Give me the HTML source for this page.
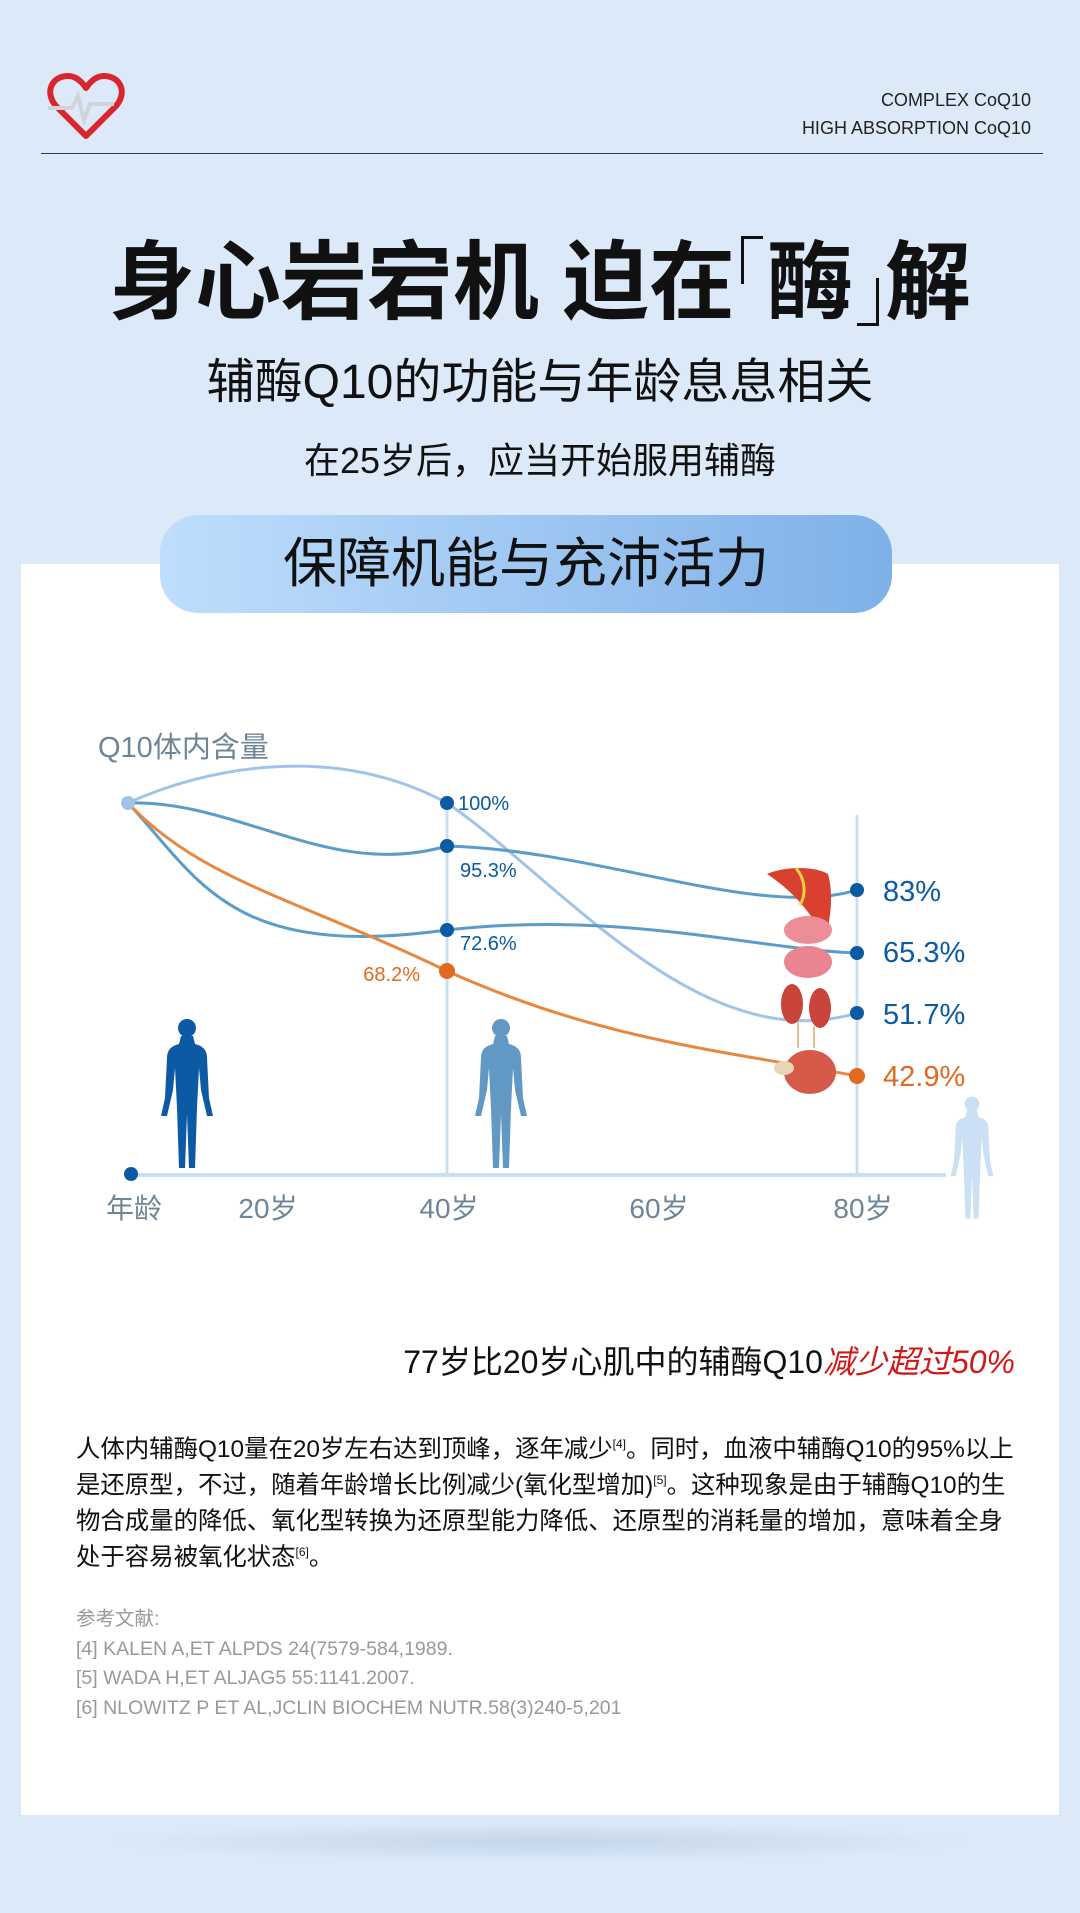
<!DOCTYPE html>
<html><head><meta charset="utf-8"><style>
*{margin:0;padding:0;box-sizing:border-box}
body{width:1080px;height:1913px;background:#dce9f8;position:relative;overflow:hidden;font-family:"Liberation Sans","Noto Sans CJK SC",sans-serif;color:#111}
.abs{position:absolute;white-space:nowrap}
.bk{display:inline-block;width:22px;height:48px;color:transparent;font-size:10px;overflow:hidden;position:relative}
sup{font-size:12px;line-height:0}
</style></head><body>
<svg class="abs" style="left:44px;top:70px" width="84" height="72" viewBox="0 0 84 72">
<path d="M42 66 L12 36 C0 22 8 6 24 6 C32 6 38 12 42 18 C46 12 52 6 60 6 C76 6 84 22 72 36 Z" fill="none" stroke="#d9262e" stroke-width="6" stroke-linejoin="round"/>
<path d="M4 38 H28 L34 26 L40 50 L46 34 H70" fill="none" stroke="#cfd4da" stroke-width="4"/>
</svg>
<div class="abs" style="right:49px;top:86px;font-size:18px;color:#222;text-align:right;line-height:28px">COMPLEX CoQ10<br>HIGH ABSORPTION CoQ10</div>
<div class="abs" style="left:41px;top:153px;width:1002px;height:1px;background:#2b3d55"></div>
<div class="abs" style="left:0;width:1080px;top:228px;text-align:center;font-size:86px;font-weight:bold;line-height:110px">身心岩宕机 迫在<span class="bk" style="vertical-align:28px;border-top:3px solid #111;border-left:3px solid #111;margin:0 4px 0 6px">「</span>酶<span class="bk" style="vertical-align:-14px;border-bottom:3px solid #111;border-right:3px solid #111;margin:0 6px 0 4px">」</span>解</div>
<div class="abs" style="left:0;width:1080px;top:353px;text-align:center;font-size:48px;line-height:60px">辅酶Q10的功能与年龄息息相关</div>
<div class="abs" style="left:0;width:1080px;top:438px;text-align:center;font-size:36px;line-height:46px">在25岁后，应当开始服用辅酶</div>
<div class="abs" style="left:21px;top:564px;width:1038px;height:1251px;background:#fff"></div>
<div class="abs" style="left:160px;top:515px;width:732px;height:98px;border-radius:38px;background:linear-gradient(90deg,#bfdefc,#7eb0e8);text-align:center;font-size:54px;line-height:98px">保障机能与充沛活力</div>
<svg class="abs" style="left:0;top:700px" width="1080" height="560" viewBox="0 700 1080 560">
<text x="98" y="757" font-size="29" fill="#6f8597">Q10体内含量</text>
<line x1="447" y1="803" x2="447" y2="1175" stroke="#c8dff2" stroke-width="3"/>
<line x1="857" y1="815" x2="857" y2="1175" stroke="#c8dff2" stroke-width="3"/>
<line x1="131" y1="1175" x2="946" y2="1175" stroke="#c8dff2" stroke-width="4"/>
<path d="M128 803 C200 770 330 740 447 803 C560 880 700 1060 857 1013" fill="none" stroke="#a0c4e8" stroke-width="3"/>
<path d="M128 803 C240 800 330 880 447 846 C600 850 760 920 857 890" fill="none" stroke="#5b9cc8" stroke-width="3"/>
<path d="M128 803 C200 880 230 960 447 930 C620 910 760 950 857 953" fill="none" stroke="#5b9cc8" stroke-width="3"/>
<path d="M128 803 C200 880 300 900 447 971 C600 1040 720 1050 857 1076" fill="none" stroke="#e8873f" stroke-width="3"/>
<circle cx="128" cy="803" r="7" fill="#a0c4e8"/>
<g fill="#0a5aa4"><circle cx="447" cy="803" r="7"/><circle cx="447" cy="846" r="7"/><circle cx="447" cy="930" r="7"/><circle cx="857" cy="890" r="7"/><circle cx="857" cy="953" r="7"/><circle cx="857" cy="1013" r="7"/><circle cx="131" cy="1174" r="7"/></g>
<circle cx="447" cy="971" r="8" fill="#e06a20"/><circle cx="857" cy="1076" r="8" fill="#e06a20"/>
<g font-size="20" fill="#0a5aa4"><text x="458" y="810">100%</text><text x="460" y="877">95.3%</text><text x="460" y="950">72.6%</text></g>
<text x="420" y="981" font-size="20" fill="#e06a20" text-anchor="end">68.2%</text>
<g font-size="29" fill="#0a5aa4"><text x="883" y="901">83%</text><text x="883" y="962">65.3%</text><text x="883" y="1024">51.7%</text></g>
<text x="883" y="1086" font-size="29" fill="#e06a20">42.9%</text>
<path d="M767 874 C785 866 815 866 828 874 C834 895 830 920 826 937 C812 918 800 896 767 874Z" fill="#d8402f"/>
<path d="M796 868 C806 880 806 895 800 905" stroke="#e8d040" stroke-width="3" fill="none"/>
<ellipse cx="808" cy="930" rx="24" ry="14" fill="#eb8e98"/><ellipse cx="808" cy="962" rx="24" ry="16" fill="#e98590"/>
<ellipse cx="792" cy="1004" rx="11" ry="20" fill="#c9453c"/><ellipse cx="820" cy="1008" rx="11" ry="20" fill="#c9453c"/>
<line x1="798" y1="1022" x2="798" y2="1048" stroke="#e6c090" stroke-width="2"/><line x1="814" y1="1026" x2="814" y2="1048" stroke="#e6c090" stroke-width="2"/>
<ellipse cx="810" cy="1072" rx="26" ry="22" fill="#d65a4a"/><ellipse cx="784" cy="1068" rx="10" ry="7" fill="#e9d4b4"/>
<g id="fig"><circle cx="0" cy="0" r="9"/><path d="M-6 8 H6 L8 16 C16 18 20 22 20 30 L22 70 L26 88 L20 88 L14 62 L12 40 L10 80 L8 140 L2 140 L0 86 L-2 140 L-8 140 L-10 80 L-12 40 L-14 62 L-20 88 L-26 88 L-22 70 L-20 30 C-20 22 -16 18 -8 16Z"/></g>
<use href="#fig" transform="translate(187,1028)" fill="#0d5aa4"/>
<use href="#fig" transform="translate(501,1028)" fill="#6298c4"/>
<use href="#fig" transform="translate(972,1104) scale(0.82)" fill="#cbe0f4"/>
<g font-size="28" fill="#6f8597" text-anchor="middle"><text x="134" y="1218">年龄</text><text x="268" y="1218">20岁</text><text x="449" y="1218">40岁</text><text x="659" y="1218">60岁</text><text x="863" y="1218">80岁</text></g>
</svg>
<div class="abs" style="right:65px;top:1342px;font-size:32px;line-height:40px">77岁比20岁心肌中的辅酶Q10<span style="color:#d01818;font-style:italic">减少超过50%</span></div>
<div class="abs" style="left:76px;top:1432px;width:950px;white-space:normal;font-size:24.4px;line-height:36px">人体内辅酶Q10量在20岁左右达到顶峰，逐年减少<sup>[4]</sup>。同时，血液中辅酶Q10的95%以上是还原型，不过，随着年龄增长比例减少(氧化型增加)<sup>[5]</sup>。这种现象是由于辅酶Q10的生物合成量的降低、氧化型转换为还原型能力降低、还原型的消耗量的增加，意味着全身处于容易被氧化状态<sup>[6]</sup>。</div>
<div class="abs" style="left:76px;top:1605px;font-size:19.5px;line-height:29.5px;color:#999">参考文献:<br>[4] KALEN A,ET ALPDS 24(7579-584,1989.<br>[5] WADA H,ET ALJAG5 55:1141.2007.<br>[6] NLOWITZ P ET AL,JCLIN BIOCHEM NUTR.58(3)240-5,201</div>
<div class="abs" style="left:100px;top:1822px;width:880px;height:40px;border-radius:50%;background:radial-gradient(ellipse,#c3d6ea,rgba(220,233,248,0) 70%)"></div>
</body></html>
